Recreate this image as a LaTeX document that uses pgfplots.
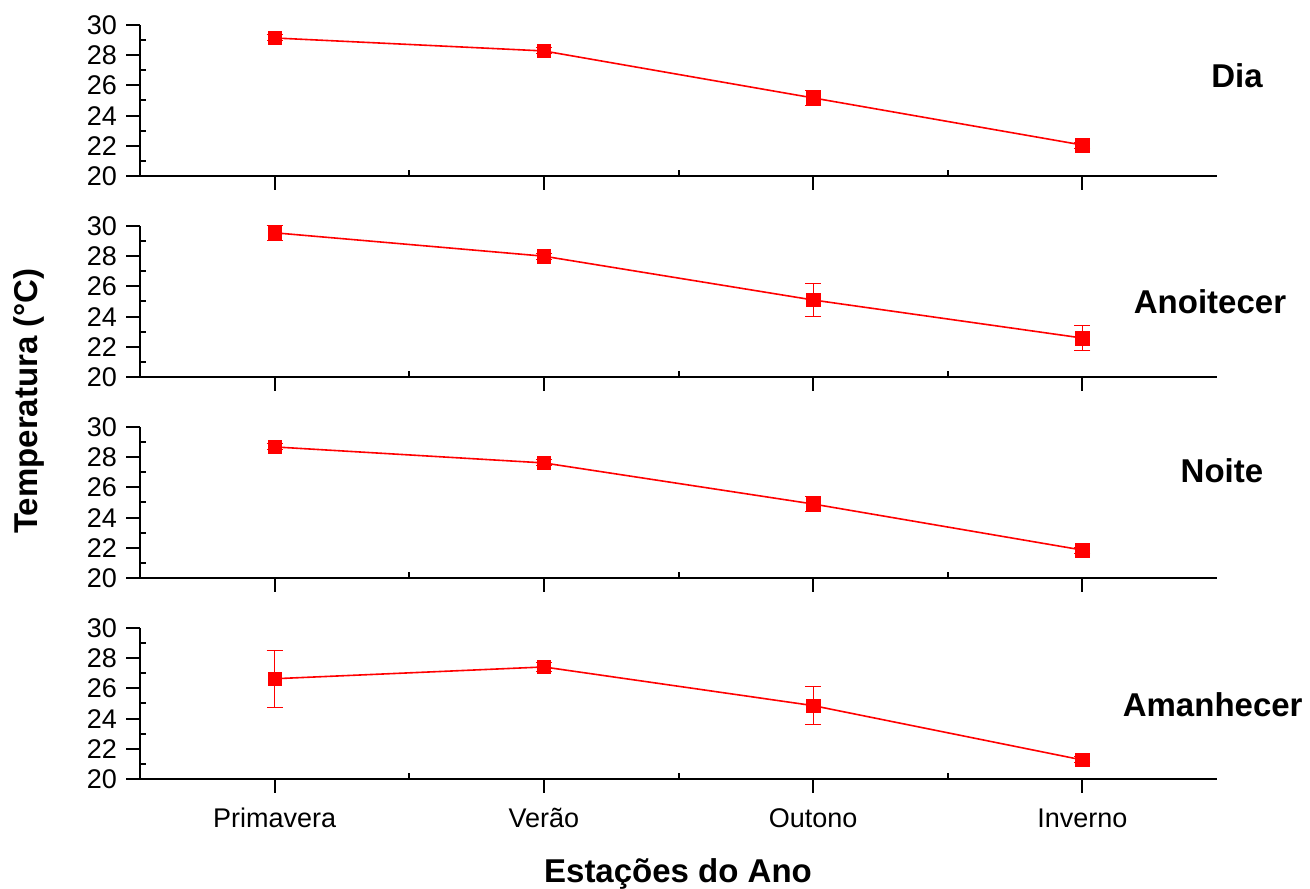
\documentclass[border=0pt]{standalone}
\usepackage{pgfplots}
\pgfplotsset{compat=1.18}
\usepackage{fontspec}
\setmainfont{Liberation Sans}
\tikzset{lbl/.style={font=\bfseries\fontsize{16.5}{20}\selectfont}}
\pgfplotsset{
  panel/.style={
    scale only axis, width=538.5pt, height=75.5pt,
    anchor=south west,
    xmin=-0.5, xmax=3.5, ymin=20, ymax=30,
    xtick={0,1,2,3}, ytick={20,22,...,30},
    minor x tick num=1, minor y tick num=1,
    axis x line*=bottom, axis y line*=left,
    axis line style={line width=1.2pt, -},
    tick align=inside,
    major tick length=-7pt, minor tick length=3pt,
    every tick/.style={black, line width=1pt},
    xticklabel shift=7pt, yticklabel shift=8pt,
    tick label style={font=\fontsize{13.5}{16}\selectfont},
    xticklabel style={text height=0.75em, text depth=0.2em, yshift=-6pt},
    xticklabels={},
    clip=false,
    /pgf/number format/assume math mode=true,
  },
  serie/.style={
    red, line width=0.8pt, mark=square*, mark size=3.4pt,
    mark options={solid, fill=red, draw=red, line width=0.3pt},
    error bars/.cd, y dir=both, y explicit,
    error bar style={line width=0.5pt, red},
    error mark options={rotate=90, red, line width=0.5pt, mark size=4pt},
  },
}
\begin{document}
\begin{tikzpicture}
\useasboundingbox (0,0) rectangle (655pt,444pt);
% Dia
\begin{axis}[panel, at={(70pt,356pt)}]
\addplot[serie] coordinates {
 (0,29.14) +- (0,0.2)
 (1,28.28) +- (0,0.2)
 (2,25.17) +- (0,0.5)
 (3,22.05) +- (0,0.2)
};
\node[lbl] at (axis description cs:1.0186,0.664) {Dia};
\end{axis}
% Anoitecer
\begin{axis}[panel, at={(70pt,255.5pt)}]
\addplot[serie] coordinates {
 (0,29.55) +- (0,0.5)
 (1,28.0) +- (0,0.2)
 (2,25.1) +- (0,1.1)
 (3,22.58) +- (0,0.8)
};
\node[lbl] at (axis description cs:0.9935,0.497) {Anoitecer};
\end{axis}
% Noite
\begin{axis}[panel, at={(70pt,155pt)}]
\addplot[serie] coordinates {
 (0,28.68) +- (0,0.2)
 (1,27.62) +- (0,0.2)
 (2,24.9) +- (0,0.5)
 (3,21.85) +- (0,0.2)
};
\node[lbl] at (axis description cs:1.0046,0.709) {Noite};
\end{axis}
% Amanhecer
\begin{axis}[panel, at={(70pt,54.5pt)}, xticklabels={Primavera,Verão,Outono,Inverno}]
\addplot[serie] coordinates {
 (0,26.64) +- (0,1.9)
 (1,27.42) +- (0,0.3)
 (2,24.86) +- (0,1.25)
 (3,21.26) +- (0,0.2)
};
\node[lbl] at (axis description cs:0.996,0.49) {Amanhecer};
\end{axis}
\node[lbl, rotate=90, anchor=base] at (18.5pt,243.5pt) {Temperatura (°C)};
\node[lbl, anchor=base] at (339pt,3pt) {Estações do Ano};
\end{tikzpicture}
\end{document}
